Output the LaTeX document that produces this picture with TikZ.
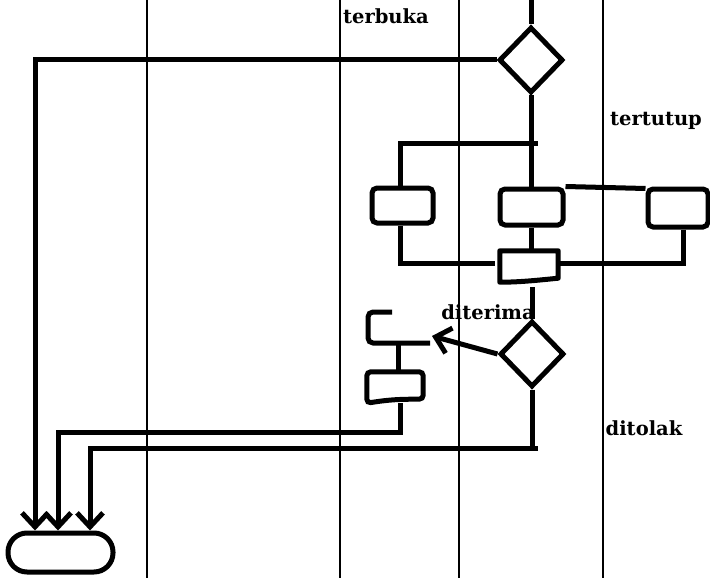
\documentclass[tikz,border=0pt]{standalone}
\usepackage{fontspec}
\setmainfont{DejaVu Serif}
\usetikzlibrary{shapes.geometric,arrows.meta,calc}
\tikzset{
  lane/.style={line width=2pt},
  flow/.style={line width=5pt},
  arr/.style={flow,-{Straight Barb[length=14pt,width=26pt]}},
  act/.style={draw,line width=5pt,rounded corners=5pt,inner sep=0pt},
  dec/.style={draw,diamond,line width=5pt,inner sep=0pt,minimum width=64pt,minimum height=66pt},
  lbl/.style={font=\fontsize{19.5}{22}\selectfont\bfseries,inner sep=0pt},
  docbox/.style={inner sep=0pt}
}
\begin{document}
\begin{tikzpicture}[x=1pt,y=-1pt]
\useasboundingbox (0,0) rectangle (710,578);
% lanes
\draw[lane] (147,0) -- (147,578);
\draw[lane] (340,0) -- (340,578);
\draw[lane] (459,0) -- (459,578);
\draw[lane] (603,0) -- (603,578);
% nodes
\node[dec] (d1) at (531,60) {};
\node[dec] (d2) at (532,354) {};
\node[act,minimum width=61pt,minimum height=35pt] (b1) at (402.5,205.5) {};
\node[act,minimum width=63pt,minimum height=36pt] (b2) at (531.5,207) {};
\node[act,minimum width=60pt,minimum height=38pt] (b3) at (678,208) {};
\node[docbox,minimum width=58pt,minimum height=31pt] (m1) at (529,266.5) {};
\draw[line width=5pt,line join=round] (m1.north west) -- (m1.north east) -- ($(m1.south east)+(0,-4)$)
  .. controls ($(m1.south east)+(-20,-2)$) and ($(m1.south west)+(20,0)$) .. (m1.south west) -- cycle;
\node[docbox,minimum width=56pt,minimum height=31pt] (b4) at (395,387.5) {};
\draw[line width=5pt,rounded corners=4pt] (b4.north west) -- (b4.north east) -- ($(b4.south east)+(0,-4)$)
  .. controls ($(b4.south east)+(-20,-4)$) and ($(b4.south west)+(25,-4)$) .. (b4.south west) -- cycle;
\node[act,rounded corners=19pt,minimum width=105pt,minimum height=39pt] (end) at (60.5,552.5) {};
% bracket (partly drawn activity)
\coordinate (brA) at (392,312);
\coordinate (brB) at (430,343);
\coordinate (brC) at (398,343);
\draw[flow,rounded corners=5pt] (brA) -- (368,312) -- (368,343) -- (brB);
% coordinates
\coordinate (top) at (531,0);
\coordinate (x1) at (35,0);
\coordinate (x2) at (58,0);
\coordinate (x3) at (90,0);
\coordinate (fkL) at (400,143);
\coordinate (fkR) at (538,143);
\coordinate (jL) at (495,263);
\coordinate (r3) at (683,263);
\coordinate (acc) at (432,336);
\coordinate (c2) at (538,448);
\coordinate (c4) at (400,432);
% connectors
\draw[flow] (top) -- (d1.north);
\draw[arr] (d1.west) -| (x1 |- end.north);
\draw[flow] (d1.south) -- (d1.south |- b2.north);
\draw[flow] (fkR) -- (fkL) -- (fkL |- b1.north);
\draw[flow] (b2.north east) -- ($(b3.north west)+(0,2)$);
\draw[flow] (fkL |- b1.south) |- (jL);
\draw[flow] (d1.south |- b2.south) -- (d1.south |- m1.north);
\draw[flow] (r3 |- b3.south) -- (r3) -- (r3 -| m1.east);
\draw[flow] ($(d2.north |- m1.south)+(0,5)$) -- (d2.north);
\draw[arr] (d2.west) -- (acc);
\draw[flow] (d2.south) -- (d2.south |- c2);
\draw[arr] (c2) -| (x3 |- end.north);
\draw[flow] (brC) -- (brC |- b4.north);
\draw[arr] (c4 |- b4.south) -- (c4) -| (x2 |- end.north);
% labels
\node[lbl] (lt) at (386,16) {terbuka};
\node[lbl] (ltt) at (656,121) {tertutup};
\node[lbl] (ld) at (488,312) {diterima};
\node[lbl] (lo) at (644,428) {ditolak};
\end{tikzpicture}
\end{document}
